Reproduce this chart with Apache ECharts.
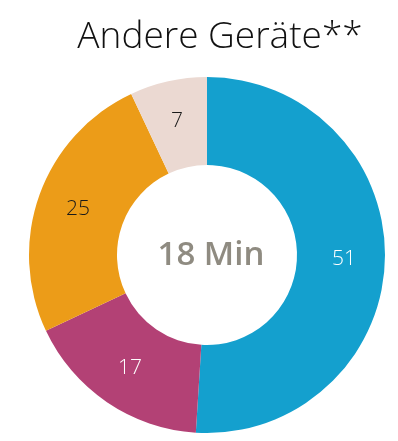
<!DOCTYPE html>
<html>
<head>
<meta charset="utf-8">
<script src="https://cdn.jsdelivr.net/npm/echarts@6/dist/echarts.min.js"></script>
<style>
  html, body { margin: 0; padding: 0; background: #fff; }
  #chart { width: 398px; height: 441px; }
</style>
</head>
<body>
<div id="chart"></div>
<script>
// Usage share by segment, in minutes of the 18-minute total
const categories = ['Segment A', 'Segment B', 'Segment C', 'Segment D'];
const values = [51, 17, 25, 7];
const colors = ['#14A0CE', '#B34175', '#EC9C18', '#EBD9D2'];
const labelColors = ['#ffffff', '#ffffff', '#1a1a1a', '#1a1a1a'];
const titleText = 'Andere Geräte**';
const centerText = '18 Min';

const chart = echarts.init(document.getElementById('chart'));
chart.setOption({
  animation: false,
  title: {
    text: titleText,
    left: 215,
    textAlign: 'center',
    top: 14,
    textStyle: {
      fontFamily: 'Open Sans',
      fontWeight: 300,
      fontSize: 37,
      color: '#111'
    }
  },
  graphic: [{
    type: 'text',
    x: 211,
    y: 256,
    style: {
      text: centerText,
      align: 'center',
      verticalAlign: 'middle',
      fontFamily: 'Open Sans',
      fontWeight: 600,
      fontSize: 33,
      fill: '#8F8B81'
    }
  }],
  series: [{
    type: 'pie',
    center: [207, 255],
    radius: [90, 178],
    startAngle: 90,
    clockwise: true,
    silent: true,
    label: {
      position: 'inside',
      fontFamily: 'Open Sans',
      fontWeight: 300,
      fontSize: 21,
      formatter: p => p.value
    },
    labelLine: { show: false },
    data: categories.map((c, i) => ({
      name: c,
      value: values[i],
      itemStyle: { color: colors[i] },
      label: { color: labelColors[i] }
    }))
  }]
});
</script>
</body>
</html>
